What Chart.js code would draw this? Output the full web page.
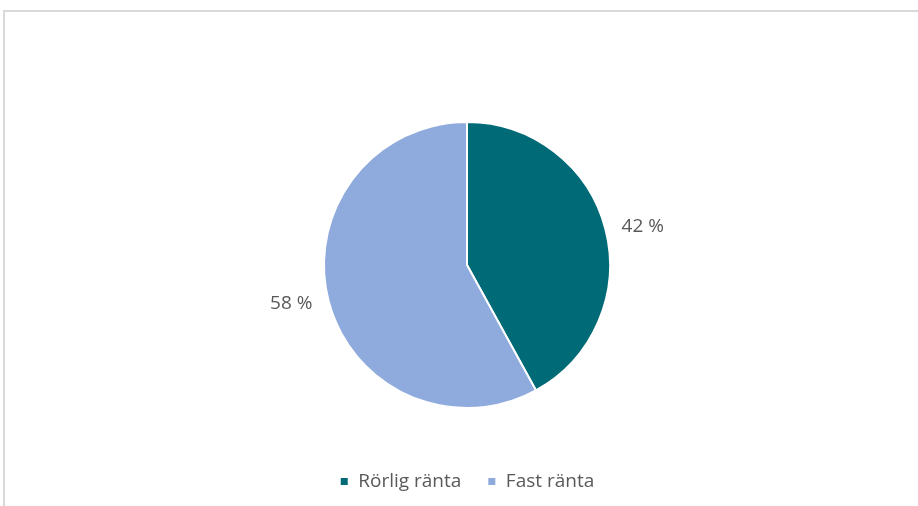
<!DOCTYPE html>
<html>
<head>
<meta charset="utf-8">
<script src="https://cdn.jsdelivr.net/npm/chart.js@4"></script>
<style>
  html, body { margin: 0; padding: 0; background: #fff; }
  #ram { position: absolute; left: 3px; top: 10px; width: 915px; height: 496px;
         border-left: 2px solid #d9d9d9; border-top: 2px solid #d9d9d9; box-sizing: border-box; }
  #wrap { position: absolute; left: 0; top: 0; width: 918px; height: 506px; }
</style>
</head>
<body>
<div id="ram"></div>
<div id="wrap"><canvas id="rantaChart"></canvas></div>
<script>
// kategorier och andelar (procent)
const kategorier = ['Rörlig ränta', 'Fast ränta'];
const andelar = [42, 58];
const farger = ['#006B77', '#8FAADC'];

// etiketter utanför tårtbitarna
const etikettPlugin = {
    id: 'etiketter',
    afterDatasetsDraw(chart) {
        const ctx = chart.ctx;
        const meta = chart.getDatasetMeta(0);
        ctx.save();
        ctx.font = '19px "Open Sans"';
        ctx.fillStyle = '#595959';
        ctx.textAlign = 'center';
        ctx.textBaseline = 'middle';
        meta.data.forEach(function (arc, i) {
            const p = arc.getProps(['x', 'y', 'startAngle', 'endAngle', 'outerRadius'], true);
            // lite vridning, som i Excel
            const mitt = (p.startAngle + p.endAngle) / 2 + 2 * Math.PI / 180;
            const r = p.outerRadius + 37;
            ctx.fillText(andelar[i] + ' %', p.x + Math.cos(mitt) * r, p.y + Math.sin(mitt) * r);
        });
        ctx.restore();
    }
};

let ctxRanta = document.getElementById('rantaChart').getContext('2d');

let rantaChart = new Chart(ctxRanta, {
    type: 'pie',
    data: {
        labels: kategorier,
        datasets: [{
            data: andelar,
            backgroundColor: farger,
            borderColor: '#fff',
            borderWidth: 2
        }]
    },
    options: {
        responsive: true,
        maintainAspectRatio: false,
        animation: false,
        layout: {
            padding: { top: 121, bottom: 5, left: 16, right: 0 }
        },
        plugins: {
            legend: {
                position: 'bottom',
                // tom titel används bara som avstånd ovanför förklaringen
                title: { display: true, text: '', font: { size: 10 }, padding: { top: 25, bottom: 0 } },
                labels: {
                    boxWidth: 9,
                    boxHeight: 9,
                    padding: 26,
                    color: '#595959',
                    font: { family: 'Open Sans', size: 19 }
                }
            },
            tooltip: { enabled: false }
        }
    },
    plugins: [etikettPlugin]
});
</script>
</body>
</html>
